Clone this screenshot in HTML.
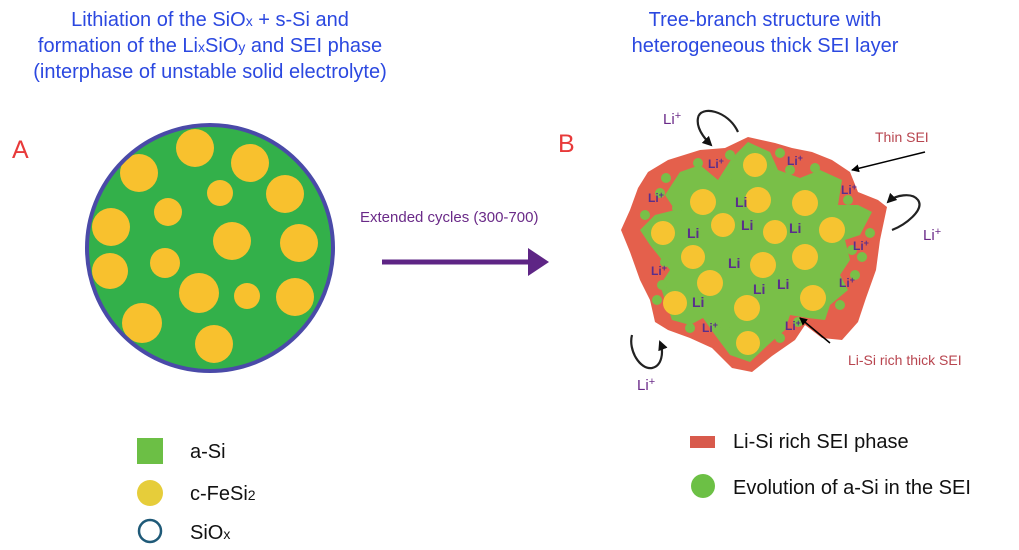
<!DOCTYPE html>
<html><head><meta charset="utf-8"><style>
html,body{margin:0;padding:0;background:#fff;}
svg{display:block;font-family:"Liberation Sans",Arial,sans-serif;}
</style></head><body>
<svg width="1019" height="550" viewBox="0 0 1019 550" xmlns="http://www.w3.org/2000/svg">
<defs>
<marker id="ah" markerWidth="8" markerHeight="8" refX="7" refY="4" orient="auto" markerUnits="userSpaceOnUse"><path d="M0,0 L8,4 L0,8 Z" fill="#000"/></marker>
<marker id="ah2" markerWidth="10" markerHeight="10" refX="8" refY="5" orient="auto" markerUnits="userSpaceOnUse"><path d="M0,0 L10,5 L0,10 Z" fill="#111"/></marker>
<clipPath id="cA"><circle cx="210" cy="248" r="121"/></clipPath>
</defs>
<g fill="#2b48e0" font-size="20" text-anchor="middle">
<text x="210" y="26">Lithiation of the SiO<tspan font-size="14">x</tspan> + s-Si and</text>
<text x="210" y="52">formation of the Li<tspan font-size="14">x</tspan>SiO<tspan font-size="14">y</tspan> and SEI phase</text>
<text x="210" y="78">(interphase of unstable solid electrolyte)</text>
<text x="765" y="26">Tree-branch structure with</text>
<text x="765" y="52">heterogeneous thick SEI layer</text>
</g>
<text x="12" y="158" font-size="25" fill="#e83a3a">A</text>
<text x="558" y="152" font-size="25" fill="#e83a3a">B</text>
<circle cx="210" cy="248" r="123" fill="#33b04a"/>
<g fill="#f8c12e" clip-path="url(#cA)">
<circle cx="195" cy="148" r="19"/><circle cx="139" cy="173" r="19"/><circle cx="250" cy="163" r="19"/>
<circle cx="220" cy="193" r="13"/><circle cx="285" cy="194" r="19"/><circle cx="168" cy="212" r="14"/>
<circle cx="111" cy="227" r="19"/><circle cx="232" cy="241" r="19"/><circle cx="299" cy="243" r="19"/>
<circle cx="110" cy="271" r="18"/><circle cx="165" cy="263" r="15"/><circle cx="199" cy="293" r="20"/>
<circle cx="247" cy="296" r="13"/><circle cx="295" cy="297" r="19"/><circle cx="142" cy="323" r="20"/>
<circle cx="214" cy="344" r="19"/>
</g>
<circle cx="210" cy="248" r="123" fill="none" stroke="#4a4aa8" stroke-width="4"/>
<text x="360" y="222" font-size="15" fill="#6a2a88">Extended cycles (300-700)</text>
<line x1="382" y1="262" x2="532" y2="262" stroke="#5e2585" stroke-width="5"/>
<polygon points="528,248 549,262 528,276" fill="#5e2585"/>
<path fill="#e4604c" d="M648,172 L668,160 L700,150 L725,148 L748,137 L775,143 L792,148 L812,152 L832,160 L850,172 L858,192 L878,200 L887,207 L880,240 L876,270 L866,298 L858,322 L842,340 L822,338 L805,325 L795,340 L772,356 L752,372 L732,368 L712,348 L690,338 L668,330 L655,322 L650,300 L640,280 L630,252 L621,230 L630,210 L638,188 Z"/>
<path fill="#79bf48" d="M680,172 L700,165 L718,180 L732,158 L748,142 L770,152 L778,170 L800,178 L820,170 L842,180 L838,205 L858,205 L872,212 L860,235 L845,240 L850,260 L840,275 L848,290 L830,305 L825,320 L808,318 L790,315 L785,330 L768,345 L750,362 L730,355 L715,335 L703,318 L690,325 L672,320 L665,300 L660,285 L670,270 L650,245 L640,230 L655,215 L675,210 L665,195 Z"/>
<g fill="#f6c431">
<circle cx="755" cy="165" r="12"/><circle cx="703" cy="202" r="13"/><circle cx="758" cy="200" r="13"/>
<circle cx="805" cy="203" r="13"/><circle cx="663" cy="233" r="12"/><circle cx="723" cy="225" r="12"/>
<circle cx="775" cy="232" r="12"/><circle cx="832" cy="230" r="13"/><circle cx="693" cy="257" r="12"/>
<circle cx="763" cy="265" r="13"/><circle cx="805" cy="257" r="13"/><circle cx="710" cy="283" r="13"/>
<circle cx="747" cy="308" r="13"/><circle cx="813" cy="298" r="13"/><circle cx="675" cy="303" r="12"/>
<circle cx="748" cy="343" r="12"/>
</g>
<g fill="#79bf48">
<circle cx="698" cy="163" r="5"/><circle cx="730" cy="155" r="5"/><circle cx="727" cy="177" r="5"/>
<circle cx="780" cy="153" r="5"/><circle cx="790" cy="170" r="5"/><circle cx="815" cy="168" r="5"/>
<circle cx="666" cy="178" r="5"/><circle cx="660" cy="193" r="5"/><circle cx="677" cy="208" r="5"/>
<circle cx="645" cy="215" r="5"/><circle cx="848" cy="200" r="5"/><circle cx="870" cy="233" r="5"/>
<circle cx="852" cy="250" r="5"/><circle cx="862" cy="257" r="5"/><circle cx="665" cy="262" r="5"/>
<circle cx="662" cy="285" r="5"/><circle cx="657" cy="300" r="5"/><circle cx="840" cy="305" r="5"/>
<circle cx="690" cy="328" r="5"/><circle cx="725" cy="325" r="5"/><circle cx="798" cy="322" r="5"/>
<circle cx="780" cy="338" r="5"/><circle cx="855" cy="275" r="5"/>
</g>
<g fill="#5a2e8c" font-size="14" font-weight="bold">
<text x="735" y="207">Li</text><text x="687" y="238">Li</text><text x="741" y="230">Li</text>
<text x="789" y="233">Li</text><text x="728" y="268">Li</text><text x="753" y="294">Li</text>
<text x="777" y="289">Li</text><text x="692" y="307">Li</text>
</g>
<g fill="#5a2e8c" font-size="12" font-weight="bold">
<text x="708" y="168">Li<tspan font-size="9" dy="-4">+</tspan></text>
<text x="787" y="165">Li<tspan font-size="9" dy="-4">+</tspan></text>
<text x="648" y="202">Li<tspan font-size="9" dy="-4">+</tspan></text>
<text x="841" y="194">Li<tspan font-size="9" dy="-4">+</tspan></text>
<text x="853" y="250">Li<tspan font-size="9" dy="-4">+</tspan></text>
<text x="651" y="275">Li<tspan font-size="9" dy="-4">+</tspan></text>
<text x="839" y="287">Li<tspan font-size="9" dy="-4">+</tspan></text>
<text x="702" y="332">Li<tspan font-size="9" dy="-4">+</tspan></text>
<text x="785" y="330">Li<tspan font-size="9" dy="-4">+</tspan></text>
</g>
<g fill="#6a2a88" font-size="15">
<text x="663" y="124">Li<tspan font-size="11" dy="-5">+</tspan></text>
<text x="923" y="240">Li<tspan font-size="11" dy="-5">+</tspan></text>
<text x="637" y="390">Li<tspan font-size="11" dy="-5">+</tspan></text>
</g>
<g fill="#b8454f" font-size="14">
<text x="875" y="142">Thin SEI</text>
<text x="848" y="365">Li-Si rich thick SEI</text>
</g>
<line x1="925" y1="152" x2="852" y2="170" stroke="#000" stroke-width="1.5" marker-end="url(#ah)"/>
<line x1="830" y1="343" x2="800" y2="318" stroke="#000" stroke-width="1.5" marker-end="url(#ah)"/>
<path d="M738,132 C728,110 700,105 698,118 C696,128 704,138 711,145" fill="none" stroke="#222" stroke-width="2.2" marker-end="url(#ah2)"/>
<path d="M892,230 C905,225 925,210 918,200 C912,192 895,195 888,202" fill="none" stroke="#222" stroke-width="2.2" marker-end="url(#ah2)"/>
<path d="M632,335 C628,350 640,370 652,368 C662,366 664,352 660,342" fill="none" stroke="#222" stroke-width="2.2" marker-end="url(#ah2)"/>
<rect x="137" y="438" width="26" height="26" fill="#6cbf45"/>
<circle cx="150" cy="493" r="13" fill="#e6cd3a"/>
<circle cx="150" cy="531" r="11" fill="none" stroke="#1f5a78" stroke-width="2.5"/>
<g fill="#111" font-size="20">
<text x="190" y="458">a-Si</text>
<text x="190" y="500">c-FeSi<tspan font-size="14">2</tspan></text>
<text x="190" y="539">SiO<tspan font-size="14">x</tspan></text>
</g>
<rect x="690" y="436" width="25" height="12" fill="#d85a4c"/>
<circle cx="703" cy="486" r="12" fill="#6cc045"/>
<g fill="#111" font-size="20">
<text x="733" y="448">Li-Si rich SEI phase</text>
<text x="733" y="494">Evolution of a-Si in the SEI</text>
</g>
</svg>
</body></html>
